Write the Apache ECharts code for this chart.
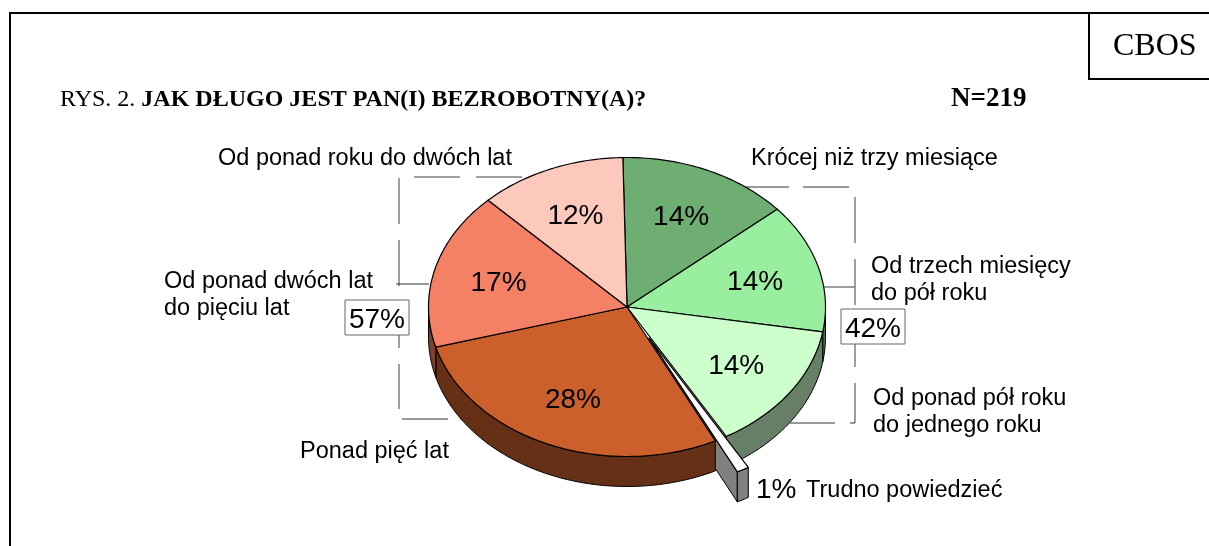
<!DOCTYPE html>
<html>
<head>
<meta charset="utf-8">
<title>RYS. 2</title>
<style>
  html, body { margin: 0; padding: 0; background: #fff; }
  #chart { width: 1209px; height: 546px; }
</style>
<script src="https://cdn.jsdelivr.net/npm/echarts@6/dist/echarts.min.js"></script>
</head>
<body>
<div id="chart"></div>
<script>
// dane z rysunku, kolejnosc zgodnie z ruchem wskazowek zegara
var categories = [
  "Krócej niż trzy miesiące",
  "Od trzech miesięcy\ndo pół roku",
  "Od ponad pół roku\ndo jednego roku",
  "Trudno powiedzieć",
  "Ponad pięć lat",
  "Od ponad dwóch lat\ndo pięciu lat",
  "Od ponad roku do dwóch lat"
];
var values = [14, 14, 14, 1, 28, 17, 12];
var groupLabels = ["57%", "42%"];
var titlePrefix = "RYS. 2. ";
var titleBold = "JAK DŁUGO JEST PAN(I) BEZROBOTNY(A)?";
var sampleSize = "N=219";
var source = "CBOS";

// kolory i geometria
var topColors = ["#6fae73", "#99ee9f", "#ccffcc", "#ffffff", "#cc602c", "#f48066", "#fcc9bc"];
var wallColors = ["#38573a", "#4c774f", "#667f66", "#808080", "#663016", "#7a4033", "#7e6560"];
var explodedIndex = 3;
var cx = 627, cy = 307, rx = 198.5, ry = 149.5, depth = 30;
var startAngle = -1.2;
var explode = 0.235;
var labelRadius = 0.67;

var total = values.reduce(function (a, b) { return a + b; }, 0);
var sans = '"Liberation Sans", Arial, sans-serif';
var serif = '"Liberation Serif", "Times New Roman", serif';

function pt(angle, ox, oy, k) {
  var r = angle * Math.PI / 180;
  var f = k === undefined ? 1 : k;
  return [ox + rx * f * Math.sin(r), oy - ry * f * Math.cos(r)];
}

function arc(a0, a1, ox, oy) {
  var pts = [];
  var n = Math.max(2, Math.ceil(Math.abs(a1 - a0)));
  for (var i = 0; i <= n; i++) {
    pts.push(pt(a0 + (a1 - a0) * i / n, ox, oy));
  }
  return pts;
}

function shape(points, fill, z2, width) {
  return {
    type: "polygon",
    z2: z2,
    shape: { points: points },
    style: { fill: fill, stroke: "#000", lineWidth: width || 1, lineJoin: "round" }
  };
}

function renderSlice(params, api) {
  var idx = api.value(0);
  var a0 = startAngle;
  for (var i = 0; i < idx; i++) a0 += values[i] / total * 360;
  var a1 = a0 + values[idx] / total * 360;
  var mid = (a0 + a1) / 2;
  var ox = cx, oy = cy;
  var exploded = idx === explodedIndex;
  if (exploded) {
    var d = pt(mid, 0, 0, explode);
    ox += d[0];
    oy += d[1];
  }
  var children = [];

  // sciana boczna, tylko przednia polowa elipsy
  var w0 = Math.max(a0, 90), w1 = Math.min(a1, 270);
  if (w1 > w0) {
    var wall = arc(w0, w1, ox, oy).concat(arc(w1, w0, ox, oy + depth));
    var wallZ = exploded ? 30 : (idx < explodedIndex ? 5 : 10);
    children.push(shape(wall, wallColors[idx], wallZ));
  }

  if (exploded) {
    // lewa sciana wysunietego wycinka: nad zielona sciana, pod pomaranczowa
    var tip = pt(a1, ox, oy);
    children.push(shape([[ox, oy], tip, [tip[0], tip[1] + depth], [ox, oy + depth]], wallColors[idx], 8));
  }

  var top = [[ox, oy]].concat(arc(a0, a1, ox, oy));
  children.push(shape(top, topColors[idx], exploded ? 40 : 20, 1.2));

  // etykieta procentowa
  if (!exploded) {
    var lp = pt(mid, cx, cy, labelRadius);
    children.push({
      type: "text",
      z2: 50,
      style: {
        text: values[idx] + "%",
        x: lp[0],
        y: lp[1] + 2,
        align: "center",
        verticalAlign: "middle",
        fill: "#000",
        font: "28px " + sans
      }
    });
  }
  return { type: "group", children: children };
}

function frameLine(x1, y1, x2, y2) {
  return {
    type: "line",
    shape: { x1: x1, y1: y1, x2: x2, y2: y2 },
    style: { stroke: "#000", lineWidth: 2 }
  };
}

function leader(points, color, width, dash) {
  return {
    type: "polyline",
    z: 1,
    shape: { points: points },
    style: { stroke: color, lineWidth: width, fill: null, lineDash: dash || null }
  };
}

function label(text, x, y, size, extra) {
  var style = {
    text: text,
    x: x,
    y: y,
    fill: "#000",
    font: size + "px " + sans,
    lineHeight: 27,
    verticalAlign: "middle"
  };
  for (var k in extra) style[k] = extra[k];
  return { type: "text", z: 5, style: style };
}

function groupBox(text, x, y) {
  return {
    type: "group",
    children: [
      {
        type: "rect",
        z: 4,
        shape: { x: x, y: y, width: 64, height: 35 },
        style: { fill: "#fff", stroke: "#666", lineWidth: 1 }
      },
      {
        type: "text",
        z: 5,
        style: {
          text: text,
          x: x + 32,
          y: y + 20,
          align: "center",
          verticalAlign: "middle",
          fill: "#000",
          font: "28px " + sans
        }
      }
    ]
  };
}

var chart = echarts.init(document.getElementById("chart"), null, { renderer: "canvas" });

chart.setOption({
  animation: false,
  backgroundColor: "#fff",
  tooltip: { show: false },
  graphic: [
    frameLine(10, 13, 1209, 13),
    frameLine(10, 12, 10, 546),
    frameLine(1089, 12, 1089, 80),
    frameLine(1088, 79, 1209, 79),
    {
      type: "text",
      style: {
        text: "{a|" + titlePrefix + "}{b|" + titleBold + "}",
        x: 60,
        y: 100,
        verticalAlign: "middle",
        rich: {
          a: { font: "24px " + serif, fill: "#000" },
          b: { font: "bold 24px " + serif, fill: "#000" }
        }
      }
    },
    {
      type: "text",
      style: { text: sampleSize, x: 951, y: 99, verticalAlign: "middle", fill: "#000", font: "bold 27px " + serif }
    },
    {
      type: "text",
      style: { text: source, x: 1113, y: 47, verticalAlign: "middle", fill: "#000", font: "32px " + serif }
    },

    // linie odniesienia
    leader([[522, 177], [399, 177], [399, 409]], "#808080", 1.5, [46, 16]),
    leader([[402, 419], [466, 419]], "#333", 1, [46, 12]),
    leader([[396, 284], [429, 284]], "#333", 1),
    leader([[743, 187], [849, 187]], "#333", 1, [46, 14]),
    leader([[855, 197], [855, 423]], "#808080", 1.5, [46, 16]),
    leader([[823, 287], [855, 287]], "#808080", 1.5),
    leader([[790, 423], [855, 423]], "#333", 1, [45, 15]),

    groupBox(groupLabels[0], 345, 300),
    groupBox(groupLabels[1], 841, 309),

    label(categories[0], 751, 159, 23.5),
    label(categories[1], 871, 280, 23.5),
    label(categories[2], 873, 412, 23.5),
    label(values[3] + "%", 756, 490, 28),
    label(categories[3], 806, 491, 23.5),
    label(categories[4], 300, 452, 23.5),
    label(categories[5], 164, 295, 23.5),
    label(categories[6], 218, 159, 23.5)
  ],
  series: [
    {
      type: "custom",
      coordinateSystem: "none",
      silent: true,
      clip: false,
      renderItem: renderSlice,
      data: values.map(function (v, i) { return [i, v]; }),
      encode: { value: [1] },
      z: 3
    }
  ]
});
</script>
</body>
</html>
